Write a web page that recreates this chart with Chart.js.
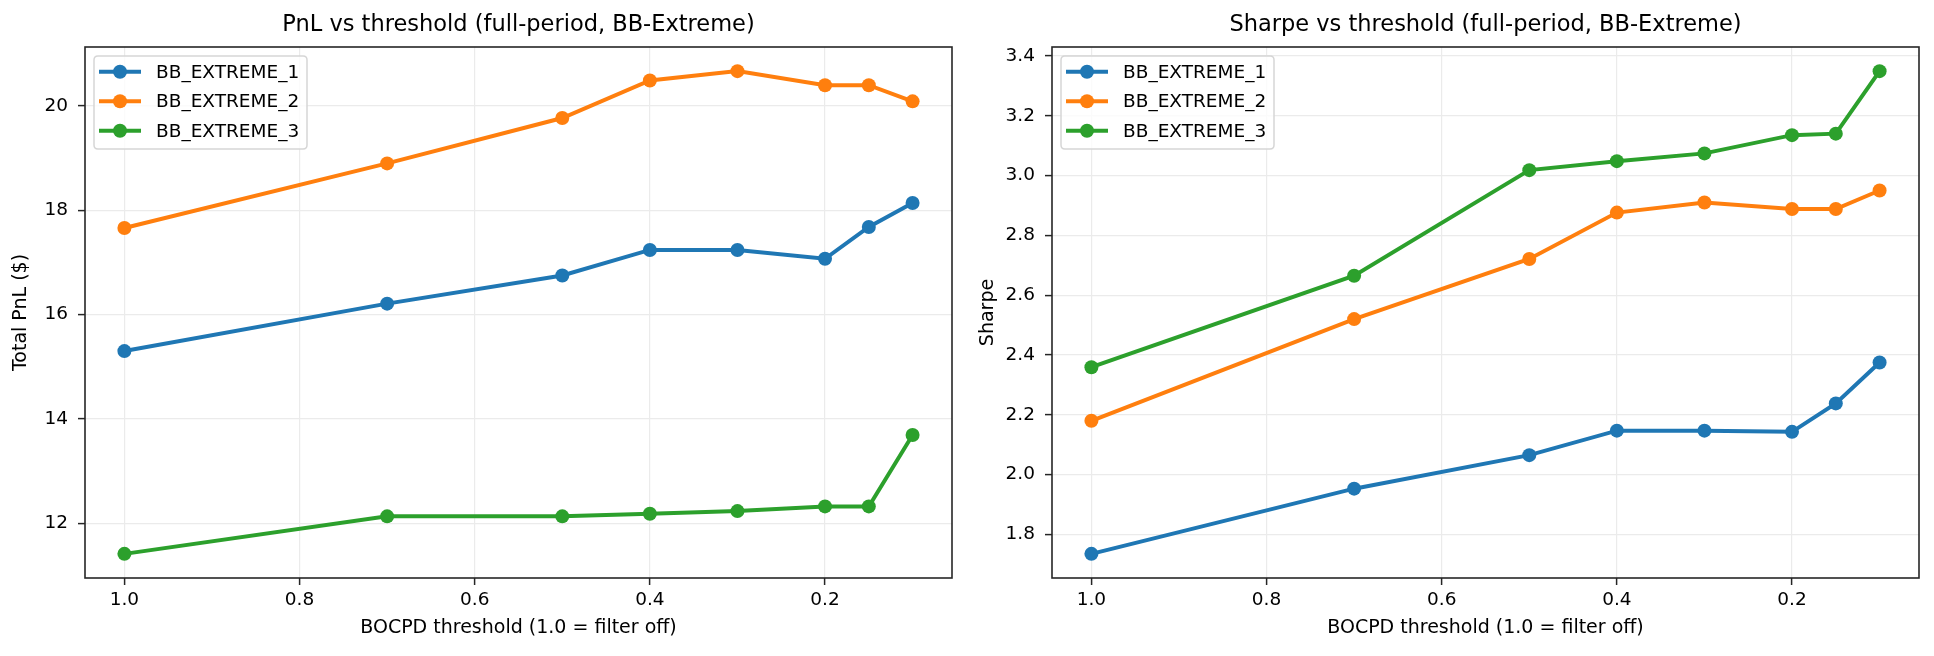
<!DOCTYPE html>
<html>
<head>
<meta charset="utf-8">
<script src="https://cdn.jsdelivr.net/npm/chart.js@4.4.1/dist/chart.umd.min.js"></script>
<style>
  html, body { margin: 0; padding: 0; background: #ffffff; }
  #wrap { position: relative; width: 1934px; height: 656px; background: #fff; }
  .panel { position: absolute; top: 0; width: 967px; height: 656px; }
  #p1 { left: 0; }
  #p2 { left: 967px; }
</style>
</head>
<body>
<div id="wrap">
  <div class="panel" id="p1"><canvas id="c1" width="967" height="656"></canvas></div>
  <div class="panel" id="p2"><canvas id="c2" width="967" height="656"></canvas></div>
</div>
<script>
// ---- data ----
const thresholds = [1.0, 0.7, 0.5, 0.4, 0.3, 0.2, 0.15, 0.1];
const seriesNames = ['BB_EXTREME_1', 'BB_EXTREME_2', 'BB_EXTREME_3'];
const pnl1 = [15.30, 16.21, 16.75, 17.24, 17.24, 17.07, 17.68, 18.14];
const pnl2 = [17.66, 18.90, 19.77, 20.49, 20.67, 20.40, 20.40, 20.09];
const pnl3 = [11.41, 12.13, 12.13, 12.18, 12.23, 12.32, 12.32, 13.69];
const sharpe1 = [1.735, 1.953, 2.065, 2.147, 2.147, 2.143, 2.238, 2.375];
const sharpe2 = [2.180, 2.520, 2.721, 2.876, 2.910, 2.888, 2.888, 2.950];
const sharpe3 = [2.359, 2.665, 3.018, 3.048, 3.074, 3.135, 3.140, 3.349];
const xTicks = [1.0, 0.8, 0.6, 0.4, 0.2];
const pnlTicks = [12, 14, 16, 18, 20];
const sharpeTicks = [1.8, 2.0, 2.2, 2.4, 2.6, 2.8, 3.0, 3.2, 3.4];
const colors = ['#1f77b4', '#ff7f0e', '#2ca02c'];

const FONT = "'DejaVu Sans', sans-serif";
const SPINE = '#262626';

function padRange(arrs) {
  const all = [].concat(...arrs);
  const lo = Math.min(...all), hi = Math.max(...all);
  const m = (hi - lo) * 0.05;
  return [lo - m, hi + m];
}

const framePlugin = {
  id: 'frame',
  afterDatasetsDraw(chart) {
    const {ctx, chartArea: a} = chart;
    ctx.save();
    ctx.strokeStyle = SPINE;
    ctx.lineWidth = 1.6;
    ctx.strokeRect(a.left, a.top, a.right - a.left, a.bottom - a.top);
    ctx.restore();
  },
  afterDraw(chart) {
    // matplotlib-style legend (upper left)
    const {ctx, chartArea: a} = chart;
    const ds = chart.data.datasets;
    const x0 = a.left + 9, y0 = a.top + 9, w = 213, h = 93, r = 4;
    ctx.save();
    ctx.beginPath();
    ctx.moveTo(x0 + r, y0);
    ctx.lineTo(x0 + w - r, y0); ctx.quadraticCurveTo(x0 + w, y0, x0 + w, y0 + r);
    ctx.lineTo(x0 + w, y0 + h - r); ctx.quadraticCurveTo(x0 + w, y0 + h, x0 + w - r, y0 + h);
    ctx.lineTo(x0 + r, y0 + h); ctx.quadraticCurveTo(x0, y0 + h, x0, y0 + h - r);
    ctx.lineTo(x0, y0 + r); ctx.quadraticCurveTo(x0, y0, x0 + r, y0);
    ctx.closePath();
    ctx.fillStyle = 'rgba(255,255,255,0.8)';
    ctx.fill();
    ctx.strokeStyle = '#d6d6d6';
    ctx.lineWidth = 1.5;
    ctx.stroke();
    ds.forEach((d, i) => {
      const yy = y0 + 15.7 + i * 29.5;
      ctx.strokeStyle = d.borderColor;
      ctx.lineWidth = 4;
      ctx.beginPath();
      ctx.moveTo(x0 + 5, yy); ctx.lineTo(x0 + 47, yy);
      ctx.stroke();
      ctx.fillStyle = d.borderColor;
      ctx.beginPath();
      ctx.arc(x0 + 26, yy, 7, 0, Math.PI * 2);
      ctx.fill();
      ctx.fillStyle = '#000';
      ctx.font = '18.5px ' + FONT;
      ctx.textAlign = 'left';
      ctx.textBaseline = 'middle';
      ctx.fillText(d.label, x0 + 62, yy + 1);
    });
    ctx.restore();
  }
};

function makeChart(canvasId, title, yTitle, arrs, yTicksArr, yDecimals) {
  const [yMin, yMax] = padRange(arrs);
  const [xMin, xMax] = padRange([thresholds]);
  const datasets = arrs.map((vals, i) => ({
    label: seriesNames[i],
    data: thresholds.map((t, j) => ({x: t, y: vals[j]})),
    borderColor: colors[i],
    backgroundColor: colors[i],
    borderWidth: 4,
    pointRadius: 7,
    pointHoverRadius: 7,
    pointBorderWidth: 0,
    pointBackgroundColor: colors[i],
    tension: 0,
    fill: false
  }));
  return new Chart(document.getElementById(canvasId), {
    type: 'line',
    data: { datasets },
    options: {
      responsive: false,
      animation: false,
      devicePixelRatio: 1,
      layout: { padding: { left: 0, right: 15, top: 0, bottom: 0 } },
      plugins: {
        legend: { display: false },
        tooltip: { enabled: false },
        title: {
          display: true,
          text: title,
          fullSize: false,
          color: '#000',
          font: { family: FONT, size: 22.5, weight: 'normal' },
          padding: { top: 12, bottom: 8 }
        }
      },
      scales: {
        x: {
          type: 'linear',
          reverse: true,
          min: xMin,
          max: xMax,
          afterFit(s) { s.height = 78; },
          afterBuildTicks(s) { s.ticks = xTicks.map(v => ({value: v})); },
          ticks: {
            color: '#000',
            font: { family: FONT, size: 18.5 },
            padding: 4,
            maxRotation: 0,
            autoSkip: false,
            callback: v => Number(v).toFixed(1)
          },
          grid: { color: '#ebebeb', lineWidth: 1.2, drawTicks: true, tickLength: 7, tickColor: SPINE, tickWidth: 1.5 },
          border: { display: false },
          title: {
            display: true,
            text: 'BOCPD threshold (1.0 = filter off)',
            color: '#000',
            font: { family: FONT, size: 19 },
            padding: { top: 0, bottom: 16.5 }
          }
        },
        y: {
          type: 'linear',
          min: yMin,
          max: yMax,
          afterFit(s) { s.width = 85; },
          afterBuildTicks(s) { s.ticks = yTicksArr.map(v => ({value: v})); },
          ticks: {
            color: '#000',
            font: { family: FONT, size: 18.5 },
            padding: 10,
            autoSkip: false,
            callback: v => Number(v).toFixed(yDecimals)
          },
          grid: { color: '#ebebeb', lineWidth: 1.2, drawTicks: true, tickLength: 7, tickColor: SPINE, tickWidth: 1.5 },
          border: { display: false },
          title: {
            display: true,
            text: yTitle,
            color: '#000',
            font: { family: FONT, size: 19 },
            padding: { top: 9.5, bottom: 0 }
          }
        }
      }
    },
    plugins: [framePlugin]
  });
}

makeChart('c1', 'PnL vs threshold (full-period, BB-Extreme)', 'Total PnL ($)', [pnl1, pnl2, pnl3], pnlTicks, 0);
makeChart('c2', 'Sharpe vs threshold (full-period, BB-Extreme)', 'Sharpe', [sharpe1, sharpe2, sharpe3], sharpeTicks, 1);
</script>
</body>
</html>
